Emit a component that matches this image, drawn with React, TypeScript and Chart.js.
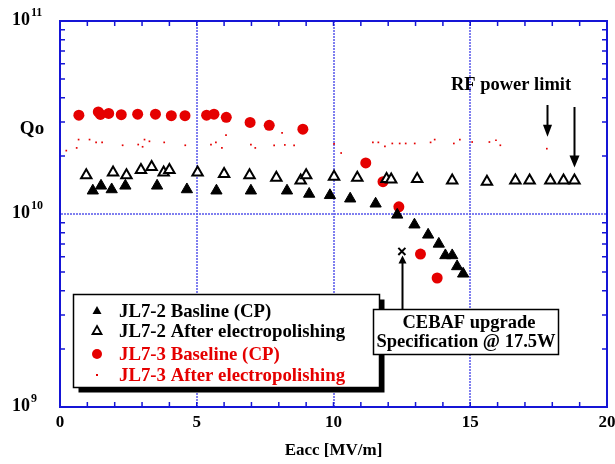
import React, { useEffect, useRef } from 'react';
import { Chart, registerables } from 'chart.js';

Chart.register(...registerables);

const SERIF = "'Liberation Serif', 'Times New Roman', Times, serif";
const AXIS_BLUE = '#1515d6';
const GRID_BLUE = 'rgba(95, 95, 235, 0.8)';
const RED = '#e50000';

// JL7-2 Basline (CP) — filled black triangles
const jl72BaseE = [1.2, 1.5, 1.89, 2.39, 3.55, 4.64, 5.72, 6.98, 8.3, 9.11, 9.87, 10.61, 11.54, 12.33, 12.96, 13.46, 13.85, 14.09, 14.34, 14.52, 14.74];
const jl72BaseQ = [1.32e10, 1.4e10, 1.34e10, 1.4e10, 1.4e10, 1.34e10, 1.32e10, 1.32e10, 1.32e10, 1.27e10, 1.25e10, 1.2e10, 1.13e10, 9.9e9, 8.8e9, 7.8e9, 7.0e9, 6.1e9, 6.1e9, 5.35e9, 4.9e9];

// JL7-2 After electropolishing — open triangles
const jl72EpE = [0.96, 1.94, 2.43, 2.96, 3.35, 3.79, 4.0, 5.03, 6.0, 6.93, 7.91, 8.8, 9.0, 10.02, 10.87, 11.94, 12.11, 13.06, 14.34, 15.61, 16.65, 17.17, 17.93, 18.41, 18.81];
const jl72EpQ = [1.59e10, 1.64e10, 1.59e10, 1.69e10, 1.75e10, 1.64e10, 1.69e10, 1.64e10, 1.61e10, 1.59e10, 1.54e10, 1.49e10, 1.59e10, 1.56e10, 1.54e10, 1.52e10, 1.51e10, 1.52e10, 1.49e10, 1.47e10, 1.49e10, 1.49e10, 1.49e10, 1.49e10, 1.49e10];

// JL7-3 Baseline (CP) — red circles
const jl73BaseE = [0.69, 1.4, 1.48, 1.78, 2.24, 2.84, 3.49, 4.07, 4.57, 5.36, 5.63, 6.08, 6.95, 7.65, 8.88, 11.18, 11.81, 12.39, 13.18, 13.79];
const jl73BaseQ = [3.25e10, 3.38e10, 3.28e10, 3.32e10, 3.27e10, 3.29e10, 3.29e10, 3.23e10, 3.23e10, 3.25e10, 3.29e10, 3.17e10, 2.98e10, 2.88e10, 2.75e10, 1.84e10, 1.47e10, 1.09e10, 6.2e9, 4.66e9];

// JL7-3 After electropolishing — small red dots
const jl73EpE = [0.23, 0.61, 0.68, 1.08, 1.32, 1.54, 2.29, 2.86, 3.02, 3.09, 3.27, 3.81, 4.58, 5.52, 5.7, 5.92, 6.07, 6.98, 7.14, 7.83, 8.12, 8.22, 8.56, 10.02, 10.28, 11.44, 11.64, 11.88, 12.15, 12.42, 12.64, 12.97, 13.55, 13.7, 14.4, 14.62, 15.07, 15.7, 15.94, 16.1, 17.8];
const jl73EpQ = [2.13e10, 2.2e10, 2.43e10, 2.43e10, 2.35e10, 2.35e10, 2.27e10, 2.29e10, 2.23e10, 2.43e10, 2.38e10, 2.35e10, 2.27e10, 2.29e10, 2.35e10, 2.2e10, 2.56e10, 2.29e10, 2.2e10, 2.27e10, 2.63e10, 2.28e10, 2.27e10, 2.31e10, 2.07e10, 2.35e10, 2.35e10, 2.24e10, 2.32e10, 2.32e10, 2.32e10, 2.32e10, 2.35e10, 2.43e10, 2.32e10, 2.43e10, 2.36e10, 2.36e10, 2.41e10, 2.27e10, 2.18e10];

// CEBAF upgrade specification point
const cebafE = [12.5];
const cebafQ = [6.4e9];

const seriesLabels = ['JL7-2 Basline (CP)', 'JL7-2 After electropolishing', 'JL7-3 Baseline (CP)', 'JL7-3 After electropolishing'];
const seriesTextColors = ['#000000', '#000000', RED, RED];

const xMin = 0;
const xMax = 20;
const xStep = 5;
const xGridValues = [5, 10, 15];
const yDecades = [1e9, 1e10, 1e11];
const yExponents = ['9', '10', '11'];
const yGridValues = [1e10];
const yAxisTitle = 'Qo';
const xAxisTitle = 'Eacc [MV/m]';
const rfLabel = 'RF power limit';
const cebafLines = ['CEBAF upgrade', 'Specification @ 17.5W'];

const pts = (xs: number[], ys: number[]) => xs.map((x, i) => ({ x, y: ys[i] }));

function arrowDown(ctx: CanvasRenderingContext2D, x: number, y0: number, tip: number, head: number, half: number) {
  ctx.beginPath();
  ctx.moveTo(x, y0);
  ctx.lineTo(x, tip - head + 1);
  ctx.stroke();
  ctx.beginPath();
  ctx.moveTo(x, tip);
  ctx.lineTo(x - half, tip - head);
  ctx.lineTo(x + half, tip - head);
  ctx.closePath();
  ctx.fill();
}

function arrowUp(ctx: CanvasRenderingContext2D, x: number, y0: number, tip: number, head: number, half: number) {
  ctx.beginPath();
  ctx.moveTo(x, y0);
  ctx.lineTo(x, tip + head - 1);
  ctx.stroke();
  ctx.beginPath();
  ctx.moveTo(x, tip);
  ctx.lineTo(x - half, tip + head);
  ctx.lineTo(x + half, tip + head);
  ctx.closePath();
  ctx.fill();
}

const decorPlugin = {
  id: 'decor',
  afterDatasetsDraw(chart: any) {
    const { ctx, chartArea: a, scales } = chart;
    const xs = scales.x;
    const ys = scales.y;
    ctx.save();

    // frame
    ctx.strokeStyle = AXIS_BLUE;
    ctx.lineWidth = 2;
    ctx.strokeRect(a.left, a.top, a.right - a.left, a.bottom - a.top);

    // inward minor ticks
    ctx.lineWidth = 1.5;
    ctx.beginPath();
    for (let v = xMin + 1; v < xMax; v++) {
      const px = xs.getPixelForValue(v);
      ctx.moveTo(px, a.bottom);
      ctx.lineTo(px, a.bottom - 5);
      ctx.moveTo(px, a.top);
      ctx.lineTo(px, a.top + 5);
    }
    for (let d = 0; d < yDecades.length - 1; d++) {
      for (let m = 2; m <= 9; m++) {
        const py = ys.getPixelForValue(yDecades[d] * m);
        ctx.moveTo(a.left, py);
        ctx.lineTo(a.left + 5, py);
        ctx.moveTo(a.right, py);
        ctx.lineTo(a.right - 5, py);
      }
    }
    ctx.stroke();

    // y tick labels with superscripts
    ctx.fillStyle = '#000';
    yDecades.forEach((v, i) => {
      const py = ys.getPixelForValue(v) - 1;
      ctx.font = `bold 18px ${SERIF}`;
      ctx.textAlign = 'right';
      ctx.textBaseline = 'middle';
      ctx.fillText('10', 30, py);
      ctx.font = `bold 12px ${SERIF}`;
      ctx.textAlign = 'left';
      ctx.fillText(yExponents[i], 31, py - 7);
    });

    // y axis title
    ctx.font = `bold 19px ${SERIF}`;
    ctx.textAlign = 'center';
    ctx.textBaseline = 'middle';
    ctx.fillText(yAxisTitle, 32, 129);

    // legend
    const L = { x: 73.5, y: 294.5, w: 306, h: 93 };
    ctx.fillStyle = '#000';
    ctx.fillRect(L.x + 5, L.y + 5, L.w, L.h);
    ctx.fillStyle = '#fff';
    ctx.fillRect(L.x, L.y, L.w, L.h);
    ctx.strokeStyle = '#000';
    ctx.lineWidth = 1.5;
    ctx.strokeRect(L.x, L.y, L.w, L.h);
    const rows = [311, 331, 354, 375];
    const mx = 97;
    rows.forEach((ry, i) => {
      ctx.save();
      if (i === 0 || i === 1) {
        const r = 5;
        ctx.beginPath();
        ctx.moveTo(mx, ry - r);
        ctx.lineTo(mx + r * 0.9, ry + r * 0.6);
        ctx.lineTo(mx - r * 0.9, ry + r * 0.6);
        ctx.closePath();
        if (i === 0) {
          ctx.fillStyle = '#000';
          ctx.fill();
        } else {
          ctx.strokeStyle = '#000';
          ctx.lineWidth = 1.8;
          ctx.fillStyle = '#fff';
          ctx.fill();
          ctx.stroke();
        }
      } else if (i === 2) {
        ctx.beginPath();
        ctx.arc(mx, ry, 5, 0, Math.PI * 2);
        ctx.fillStyle = RED;
        ctx.fill();
      } else {
        ctx.fillStyle = RED;
        ctx.fillRect(mx - 1, ry - 1, 2, 2);
      }
      ctx.restore();
      ctx.fillStyle = seriesTextColors[i];
      ctx.font = `bold 18.8px ${SERIF}`;
      ctx.textAlign = 'left';
      ctx.textBaseline = 'middle';
      ctx.fillText(seriesLabels[i], 119, ry + 1);
    });

    // CEBAF box
    const B = { x: 373.5, y: 309.5, w: 185, h: 45 };
    ctx.fillStyle = '#fff';
    ctx.fillRect(B.x, B.y, B.w, B.h);
    ctx.strokeStyle = '#000';
    ctx.lineWidth = 1.5;
    ctx.strokeRect(B.x, B.y, B.w, B.h);
    ctx.fillStyle = '#000';
    ctx.font = `bold 18.5px ${SERIF}`;
    ctx.textAlign = 'center';
    ctx.textBaseline = 'middle';
    ctx.fillText(cebafLines[0], 469, 323);
    ctx.fillText(cebafLines[1], 466, 342);

    // CEBAF arrow
    ctx.strokeStyle = '#000';
    ctx.fillStyle = '#000';
    ctx.lineWidth = 2;
    const cx = Math.round(xs.getPixelForValue(cebafE[0])) + 0.5;
    const cTip = ys.getPixelForValue(cebafQ[0]) + 4;
    arrowUp(ctx, cx, B.y, cTip, 8, 4);

    // RF power limit arrows
    const a1x = Math.round(xs.getPixelForValue(jl73EpE[jl73EpE.length - 1])) + 0.5;
    const a1tip = ys.getPixelForValue(jl73EpQ[jl73EpQ.length - 1]) - 12;
    arrowDown(ctx, a1x, 105, a1tip, 12, 4.5);
    const a2x = Math.round(xs.getPixelForValue(jl72EpE[jl72EpE.length - 1])) + 0.5;
    const a2tip = ys.getPixelForValue(jl72EpQ[jl72EpQ.length - 1]) - 13;
    arrowDown(ctx, a2x, 107, a2tip, 12, 5);

    ctx.font = `bold 18.5px ${SERIF}`;
    ctx.textAlign = 'center';
    ctx.textBaseline = 'middle';
    ctx.fillText(rfLabel, 511, 85);

    ctx.restore();
  },
};

export default function App() {
  const ref = useRef<HTMLCanvasElement | null>(null);

  useEffect(() => {
    document.body.style.margin = '0';
    const canvas = ref.current;
    if (!canvas) return;
    const chart = new Chart(canvas, {
      type: 'scatter',
      data: {
        datasets: [
          {
            label: seriesLabels[3],
            data: pts(jl73EpE, jl73EpQ),
            pointStyle: 'rect',
            pointRadius: 1.2,
            backgroundColor: RED,
            borderWidth: 0,
          },
          {
            label: seriesLabels[1],
            data: pts(jl72EpE, jl72EpQ),
            pointStyle: 'triangle',
            pointRadius: 6,
            backgroundColor: '#ffffff',
            borderColor: '#000000',
            borderWidth: 2,
          },
          {
            label: seriesLabels[0],
            data: pts(jl72BaseE, jl72BaseQ),
            pointStyle: 'triangle',
            pointRadius: 6.5,
            backgroundColor: '#000000',
            borderColor: '#000000',
            borderWidth: 1,
          },
          {
            label: seriesLabels[2],
            data: pts(jl73BaseE, jl73BaseQ),
            pointStyle: 'circle',
            pointRadius: 5.5,
            backgroundColor: RED,
            borderColor: RED,
            borderWidth: 0,
          },
          {
            label: 'CEBAF spec',
            data: pts(cebafE, cebafQ),
            pointStyle: 'crossRot',
            pointRadius: 5,
            borderColor: '#000000',
            borderWidth: 2,
          },
        ],
      },
      options: {
        animation: false,
        responsive: false,
        events: [],
        layout: { padding: { top: 21, right: 7, left: 0, bottom: 0 } },
        plugins: {
          legend: { display: false },
          tooltip: { enabled: false },
          title: { display: false },
        },
        scales: {
          x: {
            type: 'linear',
            min: xMin,
            max: xMax,
            ticks: {
              stepSize: xStep,
              color: '#000',
              font: { family: SERIF, size: 17, weight: 'bold' },
              padding: 5,
              maxRotation: 0,
            },
            grid: {
              drawTicks: false,
              lineWidth: 2,
              color: (c: any) => (xGridValues.includes(c.tick?.value) ? GRID_BLUE : 'rgba(0,0,0,0)'),
            },
            border: { display: true, color: AXIS_BLUE, width: 2, dash: [2, 1] },
            title: {
              display: true,
              text: xAxisTitle,
              color: '#000',
              font: { family: SERIF, size: 17, weight: 'bold' },
              padding: { top: 0, bottom: 3 },
            },
            afterFit: (s: any) => {
              s.height = 57;
              s.paddingLeft = 0;
              s.paddingRight = 0;
            },
          },
          y: {
            type: 'logarithmic',
            min: yDecades[0],
            max: yDecades[yDecades.length - 1],
            ticks: { display: false },
            afterBuildTicks: (s: any) => {
              s.ticks = yDecades.map((v) => ({ value: v }));
            },
            grid: {
              drawTicks: false,
              lineWidth: 2,
              color: (c: any) => (yGridValues.includes(c.tick?.value) ? GRID_BLUE : 'rgba(0,0,0,0)'),
            },
            border: { display: true, color: AXIS_BLUE, width: 2, dash: [2, 1] },
            afterFit: (s: any) => {
              s.width = 60;
            },
          },
        },
      },
      plugins: [decorPlugin],
    });
    return () => chart.destroy();
  }, []);

  return (
    <div style={{ width: 615, height: 464, background: '#fff' }}>
      <canvas ref={ref} width={615} height={464} style={{ display: 'block' }} />
    </div>
  );
}
